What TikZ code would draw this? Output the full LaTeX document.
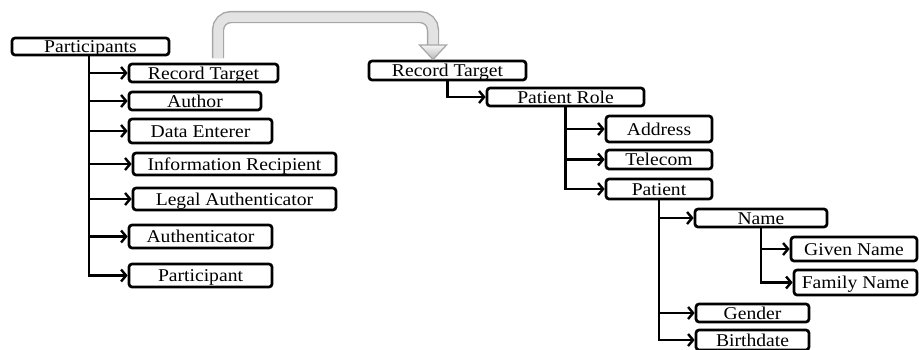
\documentclass[tikz,border=0pt]{standalone}
\usepackage{fontspec}
\setmainfont{Liberation Serif}[FakeStretch=1.09]
\usetikzlibrary{arrows.meta}

\tikzset{
  box/.style={draw, line width=2.7pt, rounded corners=3pt, inner sep=0pt,
    text height=12.6pt, text depth=0pt, font=\fontsize{18}{21}\selectfont},
  link/.style={line width=2.6pt, -{Straight Barb[length=5pt,width=12pt,line width=2.4pt]}},
  bigarrow/.style={draw=gray!70, line width=1.2pt, top color=gray!8, bottom color=gray!55},
}

\begin{document}
\begin{tikzpicture}[x=1pt, y=-1pt]
\useasboundingbox (0,0) rectangle (919,349);

% participants list
\node[box, minimum width=157pt, minimum height=17pt] (P) at (90.5,46.5) {Participants};
\node[box, minimum width=149pt, minimum height=18pt] (rtl) at (203.5,73) {Record Target};
\node[box, minimum width=132pt, minimum height=18pt] (au) at (195,101) {Author};
\node[box, minimum width=143pt, minimum height=24pt] (de) at (200.5,131) {Data Enterer};
\node[box, minimum width=203pt, minimum height=22pt] (ir) at (234.5,164) {Information Recipient};
\node[box, minimum width=203pt, minimum height=22pt] (la) at (234.5,199) {Legal Authenticator};
\node[box, minimum width=143pt, minimum height=23pt] (at) at (200.5,236.5) {Authenticator};
\node[box, minimum width=143pt, minimum height=23pt] (pa) at (200.5,275.5) {Participant};

% record target breakdown
\node[box, minimum width=157pt, minimum height=19pt] (rtr) at (447.5,70.5) {Record Target};
\node[box, minimum width=157pt, minimum height=18pt] (pr) at (565.5,97) {Patient Role};
\node[box, minimum width=106pt, minimum height=26pt] (ad) at (659,129) {Address};
\node[box, minimum width=106pt, minimum height=19pt] (tc) at (659,159.5) {Telecom};
\node[box, minimum width=106pt, minimum height=20pt] (pt) at (659,189) {Patient};
\node[box, minimum width=132pt, minimum height=18pt] (nm) at (761,218) {Name};
\node[box, minimum width=126pt, minimum height=24pt] (gn) at (854,249) {Given Name};
\node[box, minimum width=123pt, minimum height=25pt] (fn) at (855.5,282.5) {Family Name};
\node[box, minimum width=113pt, minimum height=18pt] (gd) at (752.5,313) {Gender};
\node[box, minimum width=113pt, minimum height=20pt] (bd) at (752.5,340) {Birthdate};

% tree connectors
\foreach \c in {rtl,au,de,ir,la,at,pa}
  \draw[link] ([xshift=-1.5pt]P.south) |- (\c.west);
\draw[link] (rtr.south) |- (pr.west);
\foreach \c in {ad,tc,pt}
  \draw[link] (pr.south) |- (\c.west);
\foreach \c in {nm,gd,bd}
  \draw[link] (pt.south) |- (\c.west);
\foreach \c in {gn,fn}
  \draw[link] (nm.south) |- (\c.west);

% curved transfer arrow from the left Record Target to the right one
\coordinate (gs) at (218,58);
\coordinate (ge) at (433,45);
\draw[gray!70, line width=1.4pt, double=gray!22, double distance=9.5pt,
      rounded corners=13pt] (gs) -- (gs |- 0,17) -- (ge |- 0,17) -- (ge);
\coordinate (tip) at (433,59.5);
\path[bigarrow] ([xshift=-13.5pt]ge) -- ([xshift=13.5pt]ge) -- (tip) -- cycle;
\end{tikzpicture}
\end{document}
